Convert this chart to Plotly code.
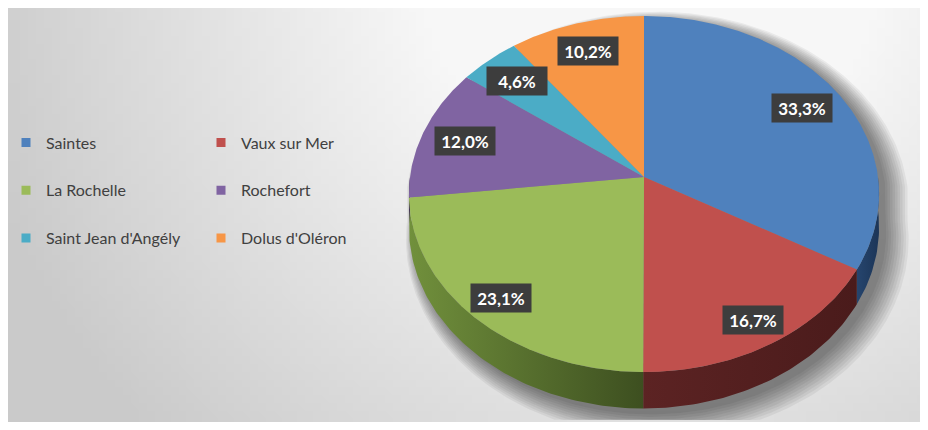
import base64
import math
import struct
import zlib

import plotly.graph_objects as go

# ---------------- data
categories = ["Saintes", "Vaux sur Mer", "La Rochelle", "Rochefort",
              "Saint Jean d'Angély", "Dolus d'Oléron"]
shares = [33.3, 16.7, 23.1, 12.0, 4.6, 10.2]

top_colors = ["#4f81bd", "#c0504d", "#9bbb59", "#8064a2", "#4bacc6", "#f79646"]
side_colors = [("#26456e", "#1c3557"), ("#5c2323", "#4a1b1b"),
               ("#71903c", "#3d4f20"), ("#4b3b60", "#3b2e4c"),
               ("#2c6676", "#22515e"), ("#93582a", "#7a4822")]

# ---------------- canvas
# the page body adds 8px around the figure; keep the figure inside the
# window and let the axes run in page pixels
PAGE_W, PAGE_H = 928, 430
OFF = 8
W, H = PAGE_W - OFF, PAGE_H - 2 * OFF
Y_END = OFF + H

# pie geometry: apex, radii, perspective strength, thickness
CX, CY = 644, 177
RX, RY = 234, 176.4
K = 0.0955
DEPTH = 33


def proj(theta, r=1.0, drop=0.0, grow=0.0):
    t = math.radians(theta)
    z = -math.cos(t) * r
    s = 1.0 / (1.0 - K * z)
    x = CX + (RX + grow) * r * math.sin(t) * s
    y = CY - (RY + grow) * r * math.cos(t) * s + drop * s
    return x, y


def arc(a, b, drop=0.0, grow=0.0, step=1.0):
    n = max(2, int(abs(b - a) / step) + 1)
    return [proj(a + (b - a) * i / (n - 1), 1.0, drop, grow) for i in range(n)]


# background gradient as a tiny generated png
def gray_png(w, h, fn):
    raw = b"".join(b"\x00" + bytes(fn(i, j) for i in range(w)) for j in range(h))

    def chunk(tag, data):
        return (struct.pack(">I", len(data)) + tag + data
                + struct.pack(">I", zlib.crc32(tag + data) & 0xffffffff))

    png = (b"\x89PNG\r\n\x1a\n"
           + chunk(b"IHDR", struct.pack(">IIBBBBB", w, h, 8, 0, 0, 0, 0))
           + chunk(b"IDAT", zlib.compress(raw, 9))
           + chunk(b"IEND", b""))
    return "data:image/png;base64," + base64.b64encode(png).decode()


bg_x0, bg_y0, bg_x1, bg_y1 = OFF, OFF, PAGE_W, Y_END
gw, gh = 116, 53


def bg_val(i, j):
    x = bg_x0 + (bg_x1 - bg_x0) * i / (gw - 1)
    y = bg_y0 + (bg_y1 - bg_y0) * j / (gh - 1)
    d = math.hypot(x - 650, y + 50)
    return int(max(202, min(247, 270 - 0.096 * d)))


fig = go.Figure()

fig.add_layout_image(
    dict(source=gray_png(gw, gh, bg_val), xref="x", yref="y",
         x=bg_x0, y=bg_y0, sizex=bg_x1 - bg_x0, sizey=bg_y1 - bg_y0,
         sizing="stretch", layer="below", opacity=1.0)
)

# soft shadow of the whole pie
for k in range(10):
    far = arc(270, 450, 0, grow=k * 1.8)
    near = arc(90, 270, DEPTH, grow=k * 1.8)
    pts = far + near
    fig.add_trace(go.Scatter(
        x=[p[0] + 7 + k * 0.7 for p in pts],
        y=[min(p[1] + 6 + k * 0.5, 420) for p in pts],
        fill="toself", mode="lines", line=dict(width=0),
        fillcolor="rgba(0,0,0,0.055)", hoverinfo="skip", showlegend=False))

# slice angles
total = sum(shares)
starts, ends = [], []
acc = 0.0
for v in shares:
    starts.append(acc / total * 360)
    acc += v
    ends.append(acc / total * 360)

# sides (only the near half is visible)
for a, b, (c0, c1) in zip(starts, ends, side_colors):
    lo, hi = max(a, 90), min(b, 270)
    if hi <= lo:
        continue
    pts = arc(lo, hi) + arc(hi, lo, DEPTH)
    fig.add_trace(go.Scatter(
        x=[p[0] for p in pts], y=[p[1] for p in pts],
        fill="toself", mode="lines", line=dict(width=0),
        fillgradient=dict(type="horizontal",
                          colorscale=[[0, c0], [1, c1]]),
        hoverinfo="skip", showlegend=False))

# top faces
for name, a, b, col, v in zip(categories, starts, ends, top_colors, shares):
    pts = [proj(0, 0)] + arc(a, b, step=0.5) + [proj(0, 0)]
    fig.add_trace(go.Scatter(
        x=[p[0] for p in pts], y=[p[1] for p in pts],
        fill="toself", mode="lines", line=dict(width=0), fillcolor=col,
        hoveron="fills", name=name, text=f"{name}: {v}%", hoverinfo="text",
        showlegend=False))

# data labels
for a, b, v in zip(starts, ends, shares):
    mid = (a + b) / 2
    f = 0.81 + 0.07 * max(0.0, -math.cos(math.radians(mid)))
    lx, ly = proj(mid, f)
    fig.add_annotation(
        x=lx, y=ly, xref="x", yref="y", showarrow=False,
        text=f"{v:.1f}".replace(".", ",") + "%",
        font=dict(family="Lato", size=17, color="white", weight="bold"),
        bgcolor="#3d3d3d", borderpad=5, width=50, height=18)

# legend entries, two columns
for i, (name, col) in enumerate(zip(categories, top_colors)):
    fig.add_trace(go.Scatter(
        x=[None], y=[None], mode="markers", name=name,
        marker=dict(symbol="square", size=9, color=col),
        legend="legend" if i % 2 == 0 else "legend2",
        legendgroup=name))

# legend panel
fig.add_shape(type="rect", xref="x", yref="y", x0=18, x1=380, y0=120, y1=263,
              fillcolor="rgba(250,250,250,0.6)", line=dict(width=0), layer="below")

legend_style = dict(
    xref="paper", yref="paper", xanchor="left", yanchor="top",
    bgcolor="rgba(0,0,0,0)", itemwidth=30, tracegroupgap=24,
    font=dict(family="Lato", size=16, color="#404040"),
    itemclick=False, itemdoubleclick=False,
)
leg_top = 1 - (125.5 - OFF) / H

fig.update_layout(
    width=W, height=H,
    margin=dict(l=0, r=0, t=0, b=0, autoexpand=False),
    paper_bgcolor="white", plot_bgcolor="rgba(0,0,0,0)",
    xaxis=dict(range=[OFF, PAGE_W], visible=False, fixedrange=True),
    yaxis=dict(range=[Y_END, OFF], visible=False, fixedrange=True),
    legend=dict(x=(6 - OFF) / W, y=leg_top, **legend_style),
    legend2=dict(x=(201 - OFF) / W, y=leg_top, **legend_style),
    hoverlabel=dict(font=dict(family="Lato")),
)

fig.write_html("out.html")
